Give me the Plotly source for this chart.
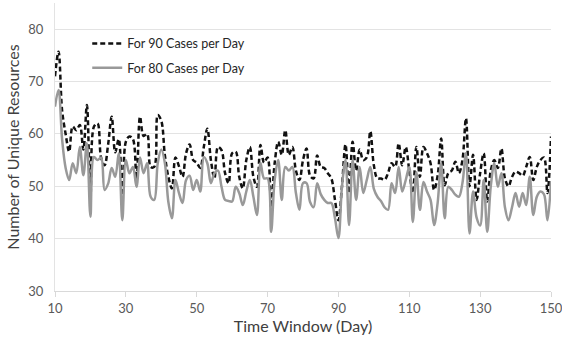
import plotly.graph_objects as go

days = list(range(10, 151))

cases_90 = [
    71, 75.7, 64.5, 60, 56.6, 61.4, 60.7, 61.7, 57, 65.5,
    48, 61.4, 62, 55.5, 54, 58, 63.3, 56.5, 59, 47.5,
    58.5, 59.5, 59, 50.6, 63.3, 59.6, 60, 53.7, 53.7, 63.6,
    62.5, 56, 51.8, 49.6, 55.5, 53.8, 51.8, 56.3, 58, 55,
    54.5, 53.5, 57.5, 61, 55, 51.5, 57.5, 56.9, 52.5, 50.6,
    56.3, 56.6, 51.8, 49.6, 55, 57.5, 51.8, 49.9, 57.9, 54.5,
    55.5, 46, 54.4, 58.5, 56, 60.7, 56, 57.5, 53, 51.2,
    55, 57.2, 52, 51.5, 55.9, 53.7, 53.5, 52.5, 51.5, 47.5,
    43.5, 50, 58, 48.7, 58.5, 53, 57, 55, 55.5, 60.5,
    54, 51.5, 51.5, 51.2, 52.5, 54.4, 53.7, 58.2, 54, 57.5,
    53, 48.7, 57.5, 51.8, 57.5, 56.3, 54.4, 49.3, 52, 59.1,
    50.2, 52.5, 53, 54.7, 52.5, 55, 63, 50, 56, 47.4,
    52.5, 56.3, 47.1, 53, 55, 53.5, 57.2, 51.5, 50, 51.8,
    52.8, 52.5, 52, 53.7, 55.6, 51.2, 53.7, 55, 55.5, 48.7,
    59.5,
]

cases_80 = [
    65.2, 68.4, 59, 53.5, 51.2, 54.4, 52.5, 57.5, 52.1, 58.2,
    44.2, 55.6, 55, 55.5, 49.3, 50.5, 53.5, 51.8, 56.3, 43.5,
    55, 52.5, 53.7, 49.9, 55.5, 52.5, 54.4, 48, 47.4, 54.4,
    57, 54.5, 47, 43.9, 51.2, 48.7, 46.8, 51.2, 52, 49.3,
    51.2, 49, 55.6, 54.4, 50.6, 52.5, 53, 49.9, 47.4, 47.2,
    47.1, 49.9, 48.7, 46.4, 49, 51.2, 48, 44.5, 54.5, 51.5,
    51.5, 41.3, 51.2, 55, 47.4, 53.7, 53, 53.7, 48.7, 45.5,
    50.6, 50.6, 47, 46, 50.6, 48.5, 47.4, 46.8, 46.8, 44,
    40.1, 49.9, 55, 42.6, 55, 47.4, 53.7, 48.7, 51.2, 53.7,
    49.5, 48, 47.2, 46, 45.5, 50.6, 48.7, 53.7, 49, 51.2,
    53.7, 43.2, 52.7, 45.5, 50.8, 49, 47.4, 42.6, 46.8, 54.4,
    43.9, 49.9, 49.3, 48.4, 48, 50.6, 56.3, 41, 49, 44,
    42.5, 51.2, 41.3, 50, 54.4, 49.9, 52.5, 46, 43.5, 46,
    48.7, 46.1, 48.7, 46.4, 51.8, 44.5, 48, 49, 48.5, 43.5,
    51,
]

x_ticks = [10, 30, 50, 70, 90, 110, 130, 150]
y_ticks = [30, 40, 50, 60, 70, 80]

FONT = "Lato"

fig = go.Figure()
fig.add_trace(go.Scatter(
    x=days, y=cases_90, mode="lines", name="For 90 Cases per Day",
    legendgroup="a",
    line=dict(color="#111111", width=2.5, dash="5px,3px", shape="spline", smoothing=1),
))
fig.add_trace(go.Scatter(
    x=days, y=cases_80, mode="lines", name="For 80 Cases per Day",
    legendgroup="b",
    line=dict(color="#999999", width=2.5, shape="spline", smoothing=1),
))

fig.update_layout(
    width=562, height=340,
    margin=dict(l=55, r=11, t=3, b=49, autoexpand=False),
    paper_bgcolor="white", plot_bgcolor="white",
    font=dict(family=FONT, color="#595959", size=13),
    showlegend=True,
    legend=dict(
        x=0.065, y=0.91, xanchor="left", yanchor="top",
        bgcolor="rgba(0,0,0,0)", tracegroupgap=5,
        font=dict(family=FONT, size=12.5, color="#262626"),
    ),
    xaxis=dict(
        range=[10, 150], tickvals=x_ticks, ticktext=[str(v) for v in x_ticks],
        showgrid=False, zeroline=False, automargin=False,
        showline=True, linecolor="#d9d9d9", linewidth=1,
        ticks="outside", ticklen=5, tickcolor="#d9d9d9",
        ticklabeloverflow="allow",
        title=dict(text="Time Window (Day)", font=dict(size=16, color="#404040"), standoff=2),
        tickfont=dict(size=13, color="#595959"),
    ),
    yaxis=dict(
        range=[30, 85], tickvals=y_ticks, ticktext=[str(v) for v in y_ticks],
        showgrid=True, gridcolor="#e3e3e3", gridwidth=1, zeroline=False, automargin=False,
        showline=True, linecolor="#e3e3e3", linewidth=1,
        ticks="", ticklabelstandoff=8,
        title=dict(text="Number of Unique Resources", font=dict(size=16, color="#404040"), standoff=4),
        tickfont=dict(size=13, color="#595959"),
    ),
)

fig.write_html(
    "out.html",
    config={"displayModeBar": False},
    post_script="document.body.style.margin='0';document.body.style.overflow='hidden';",
)
